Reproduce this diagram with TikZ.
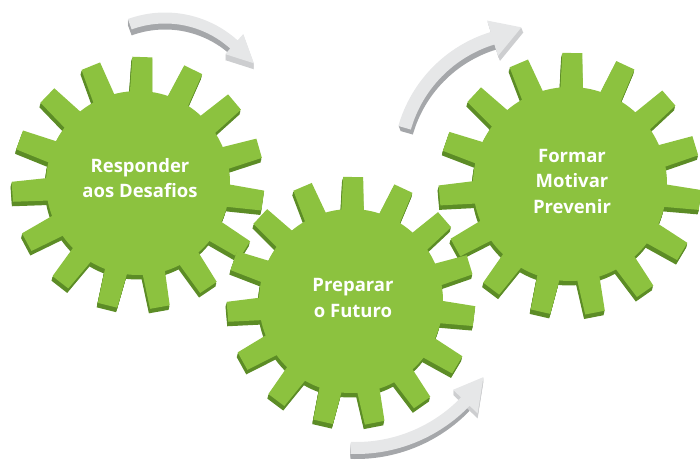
\documentclass[tikz,border=0pt]{standalone}
\usepackage{fontspec}
\setmainfont{Open Sans}
\usepackage{tikz}

\definecolor{gearlight}{RGB}{140,194,63}
\definecolor{geardark}{RGB}{92,140,38}
\definecolor{arrowtop}{RGB}{230,231,232}
\definecolor{arrowside}{RGB}{165,167,170}
\definecolor{arrowcap}{RGB}{205,206,208}

\tikzset{gearlabel/.style={text=white,font=\bfseries\fontsize{18.5}{25.5}\selectfont,align=center}}

\begin{document}
\begin{tikzpicture}[x=1pt,y=1pt]
\useasboundingbox (0,0) rectangle (700,459);
\clip (0,0) rectangle (700,459);
% gears: left, right, middle
\foreach \cx/\cy/\ro/\ri/\rot in {138/276/126/92/-2, 570/275/131/97/-1, 351/158/124/92/-1}{
\begin{scope}[shift={(\cx,\cy)},rotate=\rot]
\foreach \d in {4.5,3.5,2.5,1.5}{
\fill[geardark] (-0.25*\d,-\d) circle (\ri);
\foreach \a in {90,114,...,426}
\fill[geardark,rotate=-\rot,shift={(-0.25*\d,-\d)},rotate=\rot+\a] (\ri-8,-11.5) -- (\ro,-10) -- (\ro,10) -- (\ri-8,11.5) -- cycle;
}
\fill[gearlight] (0,0) circle (\ri);
\foreach \a in {90,114,...,426}
\fill[gearlight,rotate=\a] (\ri-8,-11.5) -- (\ro,-10) -- (\ro,10) -- (\ri-8,11.5) -- cycle;
\end{scope}
}
\node[gearlabel] (responder) at (140,281) {Responder\\aos Desafios};
\node[gearlabel] (preparar) at (353,161) {Preparar\\o Futuro};
\node[gearlabel] (formar) at (572,278) {Formar\\Motivar\\Prevenir};

% top left arrow
\begin{scope}[shift={(165,338)}]
\foreach \d in {1,2,...,6}
\fill[arrowside,shift={(0,-\d)}] (110:108.5) arc[start angle=110,end angle=48,radius=108.5] -- (48:97.5) arc[start angle=48,end angle=110,radius=97.5] -- cycle;
\foreach \d in {1,2,...,6}
\fill[arrowcap,shift={(0,-\d)}] (48:117) -- (33:106) -- (48:90) -- cycle;
\fill[arrowtop] (110:108.5) arc[start angle=110,end angle=48,radius=108.5] -- (48:117) -- (33:106) -- (48:90) -- (48:97.5) arc[start angle=48,end angle=110,radius=97.5] -- cycle;
\end{scope}

% top right arrow
\begin{scope}[shift={(531,295)}]
\foreach \d in {1,2,...,5}
\fill[arrowside,shift={(0.4*\d,-\d)}] (164:138) arc[start angle=164,end angle=107,radius=138] -- (107:125) arc[start angle=107,end angle=164,radius=125] -- cycle;
\foreach \d in {1,2,...,5}
\fill[arrowcap,shift={(0.4*\d,-\d)}] (107:150) -- (94:137) -- (107:113) -- cycle;
\fill[arrowtop] (164:138) arc[start angle=164,end angle=107,radius=138] -- (107:150) -- (94:137) -- (107:113) -- (107:125) arc[start angle=107,end angle=164,radius=125] -- cycle;
\end{scope}

% bottom arrow
\begin{scope}[shift={(356,163)}]
\foreach \d in {1,2,...,5}
\fill[arrowside,shift={(0,-\d)}] (268:146) arc[start angle=268,end angle=316,radius=146] -- (316:158) arc[start angle=316,end angle=268,radius=158] -- cycle;
\foreach \d in {1,2,...,5}
\fill[arrowcap,shift={(0,-\d)}] (316:135) -- (327.5:151) -- (316:169) -- cycle;
\fill[arrowtop] (268:146) arc[start angle=268,end angle=316,radius=146] -- (316:135) -- (327.5:151) -- (316:169) -- (316:158) arc[start angle=316,end angle=268,radius=158] -- cycle;
\end{scope}
\end{tikzpicture}
\end{document}
